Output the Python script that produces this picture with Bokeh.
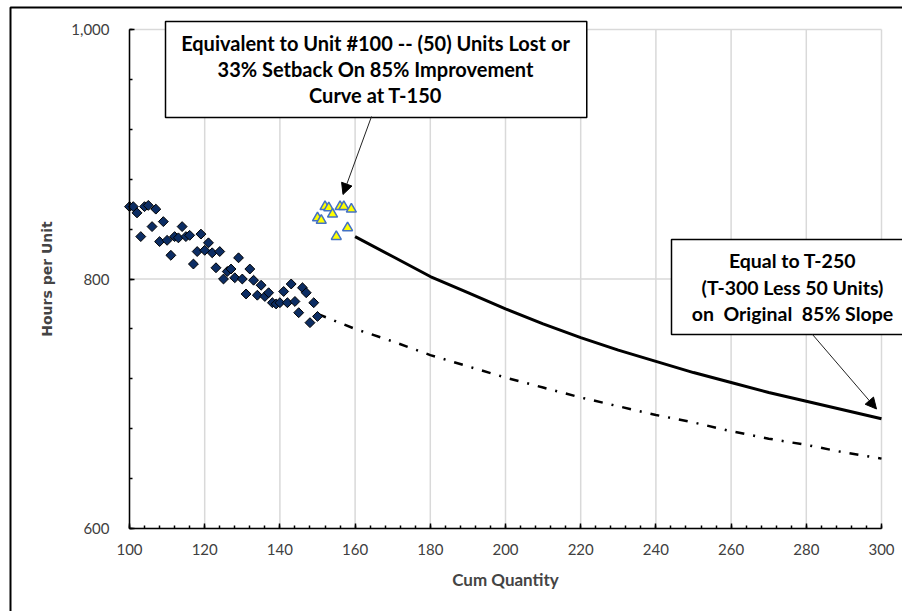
from bokeh.plotting import figure
from bokeh.models import (Range1d, FixedTicker, NumeralTickFormatter,
                          Label, Arrow, NormalHead)
from bokeh.embed import file_html
from bokeh.resources import INLINE

# ---------------- data ----------------
diamond_x = [100, 101, 102, 103, 104, 105, 106, 107, 108, 109, 110, 111, 112, 113, 114,
             115, 116, 117, 118, 119, 120, 121, 122, 123, 124, 125, 126, 127, 128, 129,
             130, 131, 132, 133, 134, 135, 136, 137, 138, 139, 140, 141, 142, 143, 144,
             145, 146, 147, 148, 149, 150]
diamond_y = [858, 858, 853, 834, 858, 859, 842, 856, 830, 846, 831, 819, 834, 833, 842,
             834, 835, 812, 822, 836, 823, 829, 821, 809, 822, 800, 806, 808, 801, 817,
             800, 788, 808, 799, 787, 795, 786, 789, 781, 780, 781, 790, 781, 796, 782,
             773, 793, 789, 765, 781, 770]

tri_x = [150, 151, 152, 153, 154, 155, 156, 157, 158, 159]
tri_y = [849, 847, 858, 857, 852, 834, 858, 858, 841, 856]

shifted_x = [160, 170, 180, 190, 200, 210, 220, 230, 240, 250, 260, 270, 280, 290, 300]
shifted_y = [834, 818, 802, 789, 776, 764, 753, 743, 734, 725, 717, 709, 702, 695, 688]

orig_x = [150, 160, 170, 180, 190, 200, 210, 220, 230, 240, 250, 260, 270, 280, 290, 300]
orig_y = [772, 760, 750, 739, 730, 721, 713, 705, 698, 691, 685, 678, 672, 667, 661, 656]

x_ticks = [100, 120, 140, 160, 180, 200, 220, 240, 260, 280, 300]
y_ticks = [600, 800, 1000]

note1_lines = ["Equivalent to Unit #100 -- (50) Units Lost or",
               "33% Setback On 85% Improvement",
               "Curve at T-150"]
note2_lines = ["Equal to T-250",
               "(T-300 Less 50 Units)",
               "on\u00a0 Original\u00a0 85% Slope"]

# ---------------- layout ----------------
W, H = 902, 611
FL, FR, FT, FB = 129, 881, 29, 528   # plot-area edges in pixels
X0, X1, Y0, Y1 = 100, 300, 600, 1000


def px2x(px):
    return X0 + (px - FL) * (X1 - X0) / (FR - FL)


def px2y(py):
    return Y1 - (py - FT) * (Y1 - Y0) / (FB - FT)


# the frame covers the whole canvas; the axes are pinned at the data edges
p = figure(width=W, height=H,
           x_range=Range1d(px2x(0), px2x(W)), y_range=Range1d(px2y(H), px2y(0)),
           output_backend="svg", toolbar_location=None, min_border=0)
p.min_border_left = p.min_border_right = p.min_border_top = p.min_border_bottom = 0
p.outline_line_color = None
p.background_fill_color = "white"
p.border_fill_color = "white"
p.grid.visible = False

p.xaxis.fixed_location = Y0
p.yaxis.fixed_location = X0
p.xaxis.bounds = (X0, X1)
p.yaxis.bounds = (Y0, Y1)

minor_x = [v for v in range(X0, X1 + 1, 4)]
minor_y = [v for v in range(Y0, Y1 + 1, 40)]
p.xaxis.ticker = FixedTicker(ticks=x_ticks, minor_ticks=minor_x)
p.yaxis.ticker = FixedTicker(ticks=y_ticks, minor_ticks=minor_y)
p.yaxis.formatter = NumeralTickFormatter(format="0,0")

for ax in (p.xaxis, p.yaxis):
    ax.axis_line_color = "black"
    ax.axis_line_width = 1.5
    ax.major_tick_line_color = "black"
    ax.major_tick_line_width = 1.5
    ax.minor_tick_line_color = "black"
    ax.minor_tick_line_width = 1.5
    ax.major_tick_in = 5
    ax.major_tick_out = 0
    ax.minor_tick_in = 3
    ax.minor_tick_out = 0
    ax.major_label_text_font = "Lato"
    ax.major_label_text_font_size = "15px"
    ax.major_label_text_color = "#404040"

p.xaxis.major_label_standoff = 15
p.yaxis.major_label_standoff = 20
p.xaxis.axis_label = "Cum Quantity"
p.xaxis.axis_label_text_font = "Lato"
p.xaxis.axis_label_text_font_style = "bold"
p.xaxis.axis_label_text_font_size = "17px"
p.xaxis.axis_label_standoff = 11
p.yaxis.axis_label = "Hours per Unit"
p.yaxis.axis_label_text_font = "DejaVu Sans"
p.yaxis.axis_label_text_font_style = "bold"
p.yaxis.axis_label_text_font_size = "14px"
p.yaxis.axis_label_standoff = 13

# gridlines limited to the plot area
p.segment(x0=x_ticks, y0=[Y0] * len(x_ticks), x1=x_ticks, y1=[Y1] * len(x_ticks),
          line_color="#d9d9d9", line_width=1.5)
p.segment(x0=[X0] * len(y_ticks), y0=y_ticks, x1=[X1] * len(y_ticks), y1=y_ticks,
          line_color="#d9d9d9", line_width=1.5)

# curves
p.line(orig_x, orig_y, line_color="black", line_width=2.5, line_dash="9 9 2 9")
p.line(shifted_x, shifted_y, line_color="black", line_width=3)

# points
p.scatter(diamond_x, diamond_y, marker="square", angle=0.7853981634, size=7,
          fill_color="#0c2d63", line_color="black", line_width=1)
p.scatter(tri_x, tri_y, marker="triangle", size=10,
          fill_color="#ffff00", line_color="#4472c4", line_width=1.5)


def frame_box(left, top, right, bottom, fill, lw):
    """A rectangle drawn as an (empty) label with padding, given in pixels."""
    return Label(x=px2x(left), y=px2y(top), text=" ", text_font_size="1px",
                 text_align="left", text_baseline="top",
                 padding=dict(left=0, top=0, right=int(right - left), bottom=int(bottom - top)),
                 background_fill_color=fill, border_line_color="black",
                 border_line_width=lw)


# outer border of the chart area
p.add_layout(frame_box(10, 7, 1000, 800, None, 2))
# annotation boxes
p.add_layout(frame_box(165, 21, 586, 116, "white", 1.5))
p.add_layout(frame_box(671, 239, 1000, 333, "white", 1.5))

for i, t in enumerate(note1_lines):
    p.add_layout(Label(x=px2x(375), y=px2y(42 + 26 * i), text=t, text_align="center",
                       text_baseline="middle", text_font="Lato", text_font_style="bold",
                       text_font_size="20px", text_color="black"))
for i, t in enumerate(note2_lines):
    p.add_layout(Label(x=px2x(792), y=px2y(260 + 26.5 * i), text=t, text_align="center",
                       text_baseline="middle", text_font="Lato", text_font_style="bold",
                       text_font_size="19.5px", text_color="black"))

p.add_layout(Arrow(x_start=px2x(371), y_start=px2y(116), x_end=px2x(342.5), y_end=px2y(194),
                   line_color="#222222", line_width=1,
                   end=NormalHead(size=11, fill_color="black", line_color="black")))
p.add_layout(Arrow(x_start=px2x(812), y_start=px2y(334), x_end=px2x(876), y_end=px2y(408.5),
                   line_color="#222222", line_width=1,
                   end=NormalHead(size=11, fill_color="black", line_color="black")))

open("out.html", "w").write(file_html(p, INLINE))
